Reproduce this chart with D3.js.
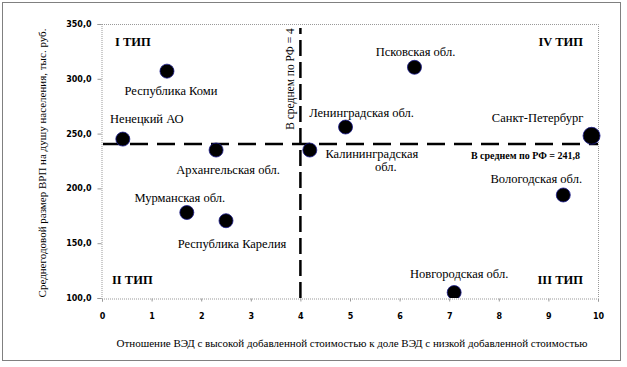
<!DOCTYPE html>
<html><head><meta charset="utf-8">
<script src="https://cdn.jsdelivr.net/npm/d3@7"></script>
<style>
html,body{margin:0;padding:0;background:#fff;}
svg{display:block;}
.serif{font-family:"Liberation Serif","Times New Roman",Tinos,"DejaVu Serif",serif;}
</style></head>
<body>
<svg id="chart" width="627" height="367"></svg>
<script>
// ---- data ----
const regions = ["Республика Коми","Ненецкий АО","Архангельская обл.","Калининградская обл.","Ленинградская обл.","Псковская обл.","Санкт-Петербург","Вологодская обл.","Новгородская обл.","Мурманская обл.","Республика Карелия"];
const ratio   = [1.31, 0.42, 2.30, 4.19, 4.91, 6.30, 9.87, 9.30, 7.10, 1.71, 2.50];
const grp     = [307, 245, 235, 235, 256, 310.5, 248, 194, 105, 178, 170.5];
const xTicks = [0,1,2,3,4,5,6,7,8,9,10];
const yTicks = [100,150,200,250,300,350];
const avgX = 4, avgY = 241.8;
const typeLabels = ["I ТИП","IV ТИП","II ТИП","III ТИП"];

// ---- layout (label offsets in px relative to marker) ----
const labelLayout = [
  {dx:4, dy:24},{dx:24, dy:-16},{dx:12, dy:24},{dx:62, dy:8},{dx:16, dy:-10},
  {dx:1, dy:-11},{dx:-54, dy:-14},{dx:-27, dy:-12},{dx:5, dy:-15},{dx:-7, dy:-11},{dx:6, dy:27}
];

const svg = d3.select("#chart");
const x = d3.scaleLinear().domain([0,10]).range([102,598]);
const y = d3.scaleLinear().domain([100,350]).range([298,24]);

svg.append("defs").append("clipPath").attr("id","clipB")
  .append("rect").attr("x",0).attr("y",0).attr("width",627).attr("height",y(100));

// outer frame
svg.append("rect").attr("x",2.5).attr("y",2.5).attr("width",618).attr("height",358)
  .attr("fill","none").attr("stroke","#000").attr("stroke-width",1).attr("stroke-dasharray","1,1");

// plot area top/right border
svg.append("path").attr("d",`M${x(0)},${y(350)+0.5}H${x(10)+0.5}V${y(100)}`)
  .attr("fill","none").attr("stroke","#999").attr("stroke-dasharray","1,1");

// axes
const fmtY = d => d3.format(".1f")(d).replace(".",",");
const ax = svg.append("g").attr("transform",`translate(0,${y(100)+0.5})`)
  .call(d3.axisBottom(x).tickValues(xTicks).tickSize(3).tickPadding(12).tickFormat(d3.format("d")));
const ay = svg.append("g").attr("transform",`translate(${x(0)-0.5},0)`)
  .call(d3.axisLeft(y).tickValues(yTicks).tickSize(4).tickPadding(6).tickFormat(fmtY));
[ax,ay].forEach(g=>{
  g.attr("font-family",null).attr("font-size",null);
  g.select(".domain").attr("stroke","#999").attr("stroke-dasharray","1,1");
  g.selectAll(".tick line").attr("stroke","#999");
  g.selectAll(".tick text").style("font-family","'DejaVu Sans',sans-serif").style("font-weight","bold")
    .style("font-size","8px").attr("fill","#000");
});

// reference lines
svg.append("line").attr("x1",x(0)+1).attr("x2",x(10)).attr("y1",y(avgY)+1.5).attr("y2",y(avgY)+1.5)
  .attr("stroke","#000").attr("stroke-width",2.5).attr("stroke-dasharray","18,9");
svg.append("line").attr("x1",x(avgX)).attr("x2",x(avgX)).attr("y1",y(100)).attr("y2",y(350)+4)
  .attr("stroke","#000").attr("stroke-width",2.5).attr("stroke-dasharray","16,6");

// reference labels
svg.append("text").attr("class","serif").attr("transform",`translate(${x(avgX)-6},${y(350)+55}) rotate(-90)`)
  .attr("text-anchor","middle").style("font-size","11.5px")
  .text("В среднем по РФ = " + avgX);
svg.append("text").attr("class","serif").attr("x",x(10)-18).attr("y",y(avgY)+16).attr("text-anchor","end")
  .style("font-size","10px").style("font-weight","bold")
  .text("В среднем по РФ = " + String(avgY).replace(".",","));

// markers
const pts = regions.map((r,i)=>({name:r, x:ratio[i], y:grp[i], lay:labelLayout[i]}));
svg.append("g").attr("clip-path","url(#clipB)").selectAll("circle").data(pts).join("circle")
  .attr("cx",d=>x(d.x)).attr("cy",d=>y(d.y))
  .attr("r",d=>d.name==="Санкт-Петербург"?8.5:7)
  .attr("fill","#000").attr("stroke","#1a1a8c").attr("stroke-width",0.8);

// labels
const lg = svg.append("g").attr("class","serif").style("font-size","12.5px").attr("text-anchor","middle");
pts.forEach(d=>{
  const t = lg.append("text").attr("x",x(d.x)+d.lay.dx).attr("y",y(d.y)+d.lay.dy);
  if(d.name==="Калининградская обл."){
    t.append("tspan").attr("x",x(d.x)+d.lay.dx).text("Калининградская");
    t.append("tspan").attr("x",x(d.x)+d.lay.dx+14).attr("dy",13).text("обл.");
  } else t.text(d.name);
});

// type labels
const tl = svg.append("g").attr("class","serif").style("font-size","12.5px").style("font-weight","bold");
tl.append("text").attr("x",x(0)+13).attr("y",y(350)+22).text(typeLabels[0]);
tl.append("text").attr("x",x(10)-15).attr("y",y(350)+22).attr("text-anchor","end").text(typeLabels[1]);
tl.append("text").attr("x",x(0)+10).attr("y",y(100)-14).text(typeLabels[2]);
tl.append("text").attr("x",x(10)-15).attr("y",y(100)-14).attr("text-anchor","end").text(typeLabels[3]);

// axis titles
svg.append("text").attr("class","serif").attr("x",352).attr("y",347).attr("text-anchor","middle")
  .style("font-size","11px")
  .text("Отношение ВЭД с высокой добавленной стоимостью к доле ВЭД с низкой добавленной стоимостью");
svg.append("text").attr("class","serif").attr("transform","translate(46,163) rotate(-90)").attr("text-anchor","middle")
  .style("font-size","11px")
  .text("Среднегодовой размер ВРП на душу населения, тыс. руб.");
</script>
</body></html>
